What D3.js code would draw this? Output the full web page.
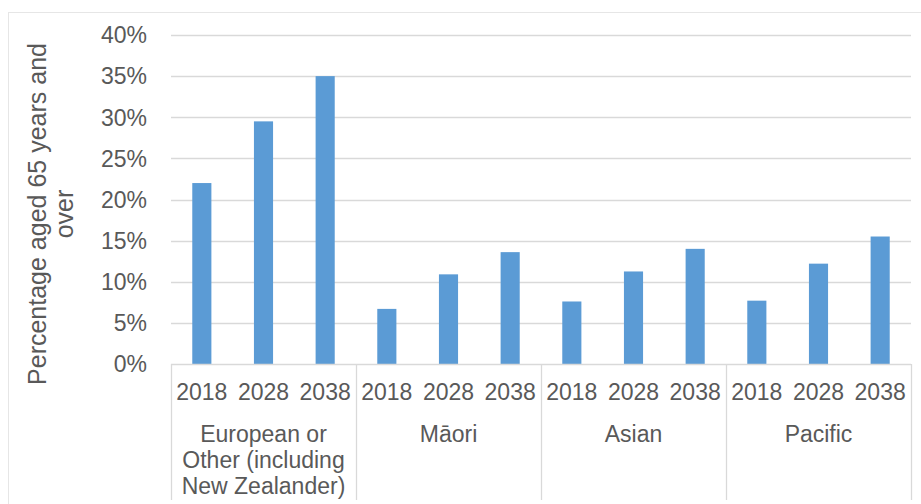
<!DOCTYPE html>
<html>
<head>
<meta charset="utf-8">
<script src="https://cdn.jsdelivr.net/npm/d3@7"></script>
<style>
  html, body { margin: 0; padding: 0; background: #ffffff; }
  svg { display: block; font-family: "Liberation Sans", Arial, sans-serif; }
</style>
</head>
<body>
<svg id="chart" width="921" height="504"></svg>
<script>
// ---- data ----
const groups = ["European or Other (including New Zealander)", "Māori", "Asian", "Pacific"];
const groupLabelLines = [["European or", "Other (including", "New Zealander)"], ["Māori"], ["Asian"], ["Pacific"]];
const years = ["2018", "2028", "2038"];
const europeanValues = [22.0, 29.5, 35.0];
const maoriValues = [6.7, 10.9, 13.6];
const asianValues = [7.6, 11.25, 14.0];
const pacificValues = [7.7, 12.2, 15.5];
const seriesValues = [europeanValues, maoriValues, asianValues, pacificValues];
const yTicks = [0, 5, 10, 15, 20, 25, 30, 35, 40];
const yTitleLines = ["Percentage aged 65 years and", "over"];

// ---- layout ----
const svg = d3.select("#chart");
const plot = { left: 171, right: 911, top: 35, bottom: 364 };
const textColor = "#595959";
const gridColor = "#d9d9d9";
const barColor = "#5b9bd5";
const fontSize = 23;

// outer border
svg.append("rect")
  .attr("x", 8.5).attr("y", 12.5).attr("width", 930).attr("height", 520)
  .attr("fill", "none").attr("stroke", "#e6e6e6").attr("stroke-width", 1);

const y = d3.scaleLinear().domain([0, 40]).range([plot.bottom, plot.top]);
const xGroup = d3.scaleBand().domain(groups).range([plot.left, plot.right]).padding(0);
const xYear = d3.scaleBand().domain(years).range([0, xGroup.bandwidth()])
  .paddingInner(0.69).paddingOuter(0.345);

// gridlines
svg.append("g").selectAll("line").data(yTicks.filter(d => d > 0)).join("line")
  .attr("x1", plot.left).attr("x2", plot.right)
  .attr("y1", d => Math.round(y(d)) + 0.5).attr("y2", d => Math.round(y(d)) + 0.5)
  .attr("stroke", gridColor).attr("stroke-width", 1.3);

// y tick labels
svg.append("g").selectAll("text").data(yTicks).join("text")
  .attr("x", 147).attr("y", d => y(d)).attr("dy", "0.36em")
  .attr("text-anchor", "end").attr("font-size", fontSize).attr("fill", textColor)
  .text(d => d + "%");

// bars
const gGroups = svg.append("g").selectAll("g").data(groups).join("g")
  .attr("transform", d => `translate(${xGroup(d)},0)`);
gGroups.selectAll("rect").data((g, gi) => years.map((yr, i) => ({ yr, v: seriesValues[gi][i] })))
  .join("rect")
  .attr("x", d => xYear(d.yr)).attr("width", xYear.bandwidth())
  .attr("y", d => y(d.v)).attr("height", d => y(0) - y(d.v))
  .attr("fill", barColor);

// x axis baseline
svg.append("line")
  .attr("x1", plot.left).attr("x2", plot.right)
  .attr("y1", plot.bottom + 0.5).attr("y2", plot.bottom + 0.5)
  .attr("stroke", gridColor).attr("stroke-width", 1.3);

// group separators
const sepX = groups.map(g => xGroup(g)).concat([plot.right]);
svg.append("g").selectAll("line").data(sepX).join("line")
  .attr("x1", d => Math.round(d) + 0.5).attr("x2", d => Math.round(d) + 0.5)
  .attr("y1", plot.bottom).attr("y2", 500)
  .attr("stroke", gridColor).attr("stroke-width", 1.3);

// year labels
gGroups.selectAll("text.yr").data(years).join("text")
  .attr("class", "yr")
  .attr("x", d => xYear(d) + xYear.bandwidth() / 2).attr("y", 400)
  .attr("text-anchor", "middle").attr("font-size", fontSize).attr("fill", textColor)
  .text(d => d);

// group labels
gGroups.each(function (g, gi) {
  const t = d3.select(this).append("text")
    .attr("text-anchor", "middle").attr("font-size", fontSize).attr("fill", textColor);
  groupLabelLines[gi].forEach((line, li) => {
    t.append("tspan").attr("x", xGroup.bandwidth() / 2).attr("y", 442 + li * 26).text(line);
  });
});

// y axis title
const yt = svg.append("text")
  .attr("transform", `translate(0,214) rotate(-90)`)
  .attr("text-anchor", "middle").attr("font-size", 25).attr("fill", textColor);
yTitleLines.forEach((line, i) => {
  yt.append("tspan").attr("x", 0).attr("y", 46 + i * 27).text(line);
});
</script>
</body>
</html>
